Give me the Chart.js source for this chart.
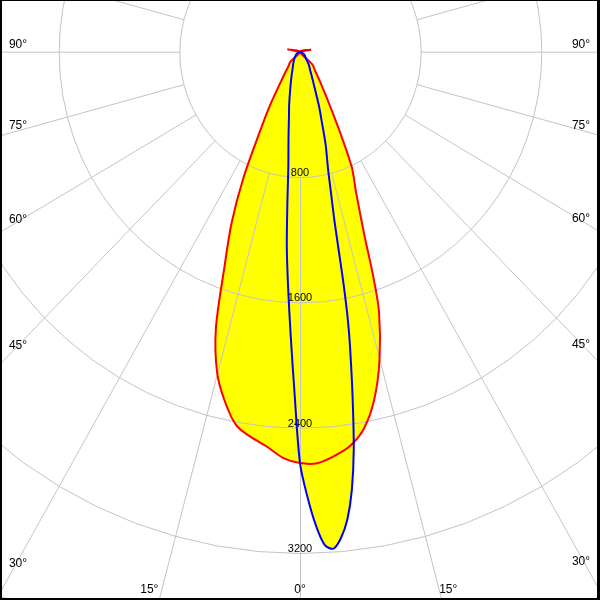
<!DOCTYPE html>
<html>
<head>
<meta charset="utf-8">
<script src="https://cdn.jsdelivr.net/npm/chart.js"></script>
<style>
  body { margin: 0; background: #fff; }
  canvas { display: block; }
</style>
</head>
<body>
<canvas id="diagram" width="600" height="600"></canvas>
<script>
// C0-C180 plane (red) : gamma in degrees (negative = left side), intensity in cd
const c0Angles = [-180, -105, -100, -90, -45, -40, -35, -30, -27.5, -25, -22.5, -20, -17.5, -15, -12.5, -10, -7.5, -5, -2.5,
  0, 2.5, 5, 7.5, 10, 12.5, 15, 17.5, 18.75, 20, 22.5, 25, 27.5, 30, 35, 40, 45, 90, 100, 105, 180];
const c0Values = [0, 0, 85, 0, 92, 117, 193, 406, 582, 886, 1187, 1466, 1855, 2122, 2292, 2424, 2482, 2530, 2595,
  2626, 2629, 2591, 2539, 2442, 2274, 2037, 1742, 1505, 1250, 971, 811, 560, 393, 228, 153, 115, 0, 75, 0, 0];

// C90-C270 plane (blue)
const c90Angles = [-180, -90, -60, -45, -35, -30, -25, -20, -15, -12, -10, -8, -6, -5, -4, -3, -2, -1,
  0, 1, 2, 3, 4, 5, 6, 7, 8, 9, 10, 10.5, 11, 11.5, 12, 13, 14, 16, 18, 20, 25, 30, 35, 45, 60, 90, 180];
const c90Values = [0, 0, 25, 48, 72, 90, 114, 164, 252, 346, 421, 546, 740, 957, 1253, 1506, 1797, 2160,
  2626, 2843, 3026, 3154, 3180, 3116, 3003, 2820, 2561, 2228, 1909, 1741, 1520, 1269, 1089, 899, 767, 616, 464, 366, 200, 134, 101, 52, 29, 0, 0];

// grid
const rings = [800, 1600, 2400, 3200, 4000];
const ringLabels = ['800', '1600', '2400', '3200'];
const spokeStep = 15;
const angleLabels = [0, 15, 30, 45, 60, 75, 90];

const rad = d => d * Math.PI / 180;
const toPoints = (angles, values) => angles.map((a, i) => ({
  x: values[i] * Math.sin(rad(a)),
  y: -values[i] * Math.cos(rad(a))
}));

const polarGrid = {
  id: 'polarGrid',
  beforeDraw(chart) {
    const ctx = chart.ctx;
    ctx.save();
    ctx.fillStyle = '#fff';
    ctx.fillRect(0, 0, chart.width, chart.height);
    ctx.restore();
  },
  // fills are already painted here (filler drawTime), lines come after
  beforeDatasetsDraw(chart) {
    const ctx = chart.ctx;
    const xs = chart.scales.x, ys = chart.scales.y;
    const pt = (a, r) => [xs.getPixelForValue(r * Math.sin(rad(a))), ys.getPixelForValue(-r * Math.cos(rad(a)))];

    ctx.save();
    ctx.translate(0.5, 0.5);
    ctx.strokeStyle = '#c4c4c4';
    ctx.lineWidth = 1;
    rings.forEach(r => {
      ctx.beginPath();
      for (let a = 0; a <= 360; a += 5) {
        const [x, y] = pt(a, r);
        if (a === 0) ctx.moveTo(x, y); else ctx.lineTo(x, y);
      }
      ctx.stroke();
    });
    for (let a = -180; a < 180; a += spokeStep) {
      const [x0, y0] = pt(a, rings[0]);
      const [x1, y1] = pt(a, 8000);
      ctx.beginPath();
      ctx.moveTo(x0, y0);
      ctx.lineTo(x1, y1);
      ctx.stroke();
    }
    ctx.restore();

    ctx.save();
    ctx.fillStyle = '#000';
    ctx.font = '11px "Liberation Sans", Arial, sans-serif';
    ctx.textBaseline = 'alphabetic';
    ctx.textAlign = 'center';
    ringLabels.forEach((t, i) => {
      ctx.fillText(t, xs.getPixelForValue(0), ys.getPixelForValue(-rings[i]) - 1);
    });

    ctx.font = '12px "Liberation Sans", Arial, sans-serif';
    const bottomY = 593;
    angleLabels.forEach(a => {
      [-1, 1].forEach(side => {
        if (a === 0 && side === 1) return;
        const txt = a + '\u00b0';
        const cx = side < 0 ? 18 : 581;
        const xv = Math.abs(xs.getValueForPixel(cx));
        const yPix = a === 0 ? Infinity : ys.getPixelForValue(-xv * Math.cos(rad(a)) / Math.sin(rad(a)));
        if (yPix < 580) {
          ctx.textAlign = 'center';
          ctx.fillText(txt, cx, yPix + 13.6 - 0.195 * a);
        } else {
          const yv = -ys.getValueForPixel(bottomY);
          const xPix = xs.getPixelForValue(side * yv * Math.tan(rad(a)));
          if (a === 0) { ctx.textAlign = 'center'; ctx.fillText(txt, xPix, bottomY); }
          else if (side < 0) { ctx.textAlign = 'right'; ctx.fillText(txt, xPix - 2, bottomY); }
          else { ctx.textAlign = 'left'; ctx.fillText(txt, xPix - 0.5, bottomY); }
        }
      });
    });
    ctx.restore();
  },
  afterDraw(chart) {
    const ctx = chart.ctx;
    ctx.save();
    ctx.fillStyle = '#000';
    ctx.fillRect(0, 0, 600, 1);
    ctx.fillRect(0, 0, 2, 600);
    ctx.fillRect(597, 0, 3, 600);
    ctx.fillRect(0, 598, 600, 2);
    ctx.restore();
  }
};

const ctx = document.getElementById('diagram').getContext('2d');
const chart = new Chart(ctx, {
  type: 'scatter',
  data: {
    datasets: [
      {
        label: 'C90-C270',
        data: toPoints(c90Angles, c90Values),
        showLine: true,
        borderColor: '#0000ff',
        backgroundColor: '#ffff00',
        borderWidth: 2,
        pointRadius: 0,
        tension: 0.3,
        fill: 'shape',
        order: 0
      },
      {
        label: 'C0-C180',
        data: toPoints(c0Angles, c0Values),
        showLine: true,
        borderColor: '#ff0000',
        backgroundColor: '#ffff00',
        borderWidth: 2,
        pointRadius: 0,
        tension: 0.3,
        fill: 'shape',
        order: 1
      }
    ]
  },
  options: {
    responsive: false,
    animation: false,
    events: [],
    layout: { padding: 0 },
    scales: {
      x: { type: 'linear', min: -1989, max: 1989, display: false },
      y: { type: 'linear', min: -3500, max: 330, display: false }
    },
    plugins: {
      legend: { display: false },
      tooltip: { enabled: false },
      filler: { drawTime: 'beforeDatasetsDraw' }
    }
  },
  plugins: [polarGrid]
});
</script>
</body>
</html>
